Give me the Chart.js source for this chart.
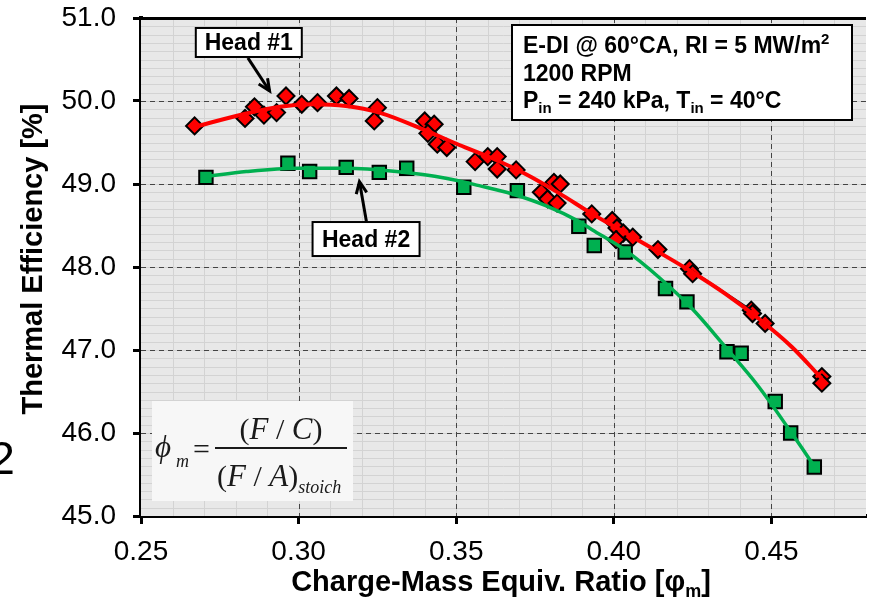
<!DOCTYPE html>
<html>
<head>
<meta charset="utf-8">
<script src="https://cdn.jsdelivr.net/npm/chart.js@4.4.1/dist/chart.umd.min.js"></script>
<style>
  html, body { margin: 0; padding: 0; background: #fff; overflow: hidden; }
  #wrap { width: 870px; height: 601px; position: relative; }
</style>
</head>
<body>
<div id="wrap"><canvas id="effChart"></canvas></div>
<script>
// Head #1 measurements (red diamonds)
const head1Phi = [0.267, 0.283, 0.286, 0.289, 0.293, 0.296, 0.301, 0.306, 0.312, 0.316,
                  0.325, 0.324, 0.340, 0.343, 0.341, 0.344, 0.347, 0.356, 0.360, 0.363,
                  0.363, 0.369, 0.377, 0.381, 0.383, 0.379, 0.382, 0.393, 0.3995, 0.401,
                  0.403, 0.406, 0.4007, 0.414, 0.424, 0.425, 0.4436, 0.444, 0.448, 0.466, 0.466];
const head1Eff = [49.70, 49.79, 49.93, 49.83, 49.86, 50.06, 49.96, 49.98, 50.06, 50.03,
                  49.92, 49.76, 49.76, 49.72, 49.61, 49.48, 49.44, 49.27, 49.33, 49.33,
                  49.18, 49.17, 48.90, 49.02, 49.00, 48.82, 48.77, 48.64, 48.56, 48.47,
                  48.41, 48.36, 48.33, 48.21, 47.98, 47.92, 47.48, 47.44, 47.32, 46.68, 46.60];

// Head #2 measurements (green squares)
const head2Phi = [0.2706, 0.2966, 0.3035, 0.3151, 0.3256, 0.3343, 0.3524, 0.3694, 0.3889,
                  0.3938, 0.4036, 0.4164, 0.4232, 0.4359, 0.4404, 0.4512, 0.4561, 0.4636];
const head2Eff = [49.08, 49.25, 49.15, 49.20, 49.14, 49.19, 48.96, 48.92, 48.49,
                  48.26, 48.18, 47.74, 47.58, 46.98, 46.96, 46.38, 46.00, 45.59];

// trend curves
const head1FitPhi = [0.267, 0.2835, 0.294, 0.3045, 0.315, 0.3256, 0.340, 0.351, 0.3614, 0.372,
                     0.3826, 0.3931, 0.4037, 0.4142, 0.4248, 0.4353, 0.4459, 0.4564, 0.4659];
const head1FitEff = [49.69, 49.85, 49.93, 49.96, 49.94, 49.86, 49.65, 49.47, 49.31, 49.12,
                     48.89, 48.64, 48.41, 48.18, 47.94, 47.68, 47.38, 47.04, 46.66];
const head2FitPhi = [0.2706, 0.2834, 0.2993, 0.3151, 0.331, 0.3467, 0.3573, 0.3678, 0.3784,
                     0.3889, 0.3931, 0.4037, 0.4142, 0.4248, 0.4353, 0.4459, 0.4564, 0.4638];
const head2FitEff = [49.09, 49.15, 49.19, 49.19, 49.15, 49.07, 48.98, 48.88, 48.74,
                     48.55, 48.45, 48.20, 47.88, 47.50, 47.04, 46.56, 46.00, 45.59];

// thin dark connector between two Head #1 points
const linkPhi = [0.4237, 0.4436];
const linkEff = [47.98, 47.48];

const xTicks = [0.25, 0.30, 0.35, 0.40, 0.45];
const yTicks = [45, 46, 47, 48, 49, 50, 51];
const xRange = [0.25, 0.48];
const yRange = [45, 51];

const SANS = '"Liberation Sans", Arial, sans-serif';
const SERIF = '"Liberation Serif", "Times New Roman", serif';

const toPoints = (xs, ys) => xs.map((x, i) => ({ x: x, y: ys[i] }));

// draws a row of text pieces (normal, sub, superscript) one after another
function drawRuns(ctx, x, y, runs) {
    let cx = x;
    runs.forEach(r => {
        ctx.font = r.font;
        ctx.fillText(r.t, cx, y + (r.dy || 0));
        cx += ctx.measureText(r.t).width;
    });
    return cx;
}
function runsWidth(ctx, runs) {
    let w = 0;
    runs.forEach(r => { ctx.font = r.font; w += ctx.measureText(r.t).width; });
    return w;
}

function drawArrow(ctx, x1, y1, x2, y2) {
    ctx.beginPath();
    ctx.moveTo(x1, y1);
    ctx.lineTo(x2, y2);
    ctx.stroke();
    const a = Math.atan2(y2 - y1, x2 - x1);
    const len = 13, spread = 0.42;
    ctx.beginPath();
    ctx.moveTo(x2 - len * Math.cos(a - spread), y2 - len * Math.sin(a - spread));
    ctx.lineTo(x2, y2);
    ctx.lineTo(x2 - len * Math.cos(a + spread), y2 - len * Math.sin(a + spread));
    ctx.stroke();
}

function labelBox(ctx, cx, cy, w, h, text) {
    ctx.fillStyle = '#fff';
    ctx.fillRect(cx - w / 2, cy - h / 2, w, h);
    ctx.lineWidth = 2;
    ctx.strokeStyle = '#000';
    ctx.strokeRect(cx - w / 2, cy - h / 2, w, h);
    ctx.fillStyle = '#000';
    ctx.font = 'bold 23px ' + SANS;
    ctx.textAlign = 'center';
    ctx.textBaseline = 'alphabetic';
    ctx.fillText(text, cx, cy + 8);
    ctx.textAlign = 'left';
}

// plot background with fine and dashed grid
const gridPlugin = {
    id: 'gridPlugin',
    beforeDatasetsDraw(chart) {
        const { ctx, chartArea: a, scales: { x, y } } = chart;
        ctx.save();
        ctx.fillStyle = '#e8e8e8';
        ctx.fillRect(a.left, a.top, a.right - a.left, a.bottom - a.top);

        ctx.strokeStyle = '#d3d3d3';
        ctx.lineWidth = 1;
        ctx.beginPath();
        for (let i = 1; i < 23; i++) {
            const px = Math.round(x.getPixelForValue(xRange[0] + i * 0.01)) + 0.5;
            ctx.moveTo(px, a.top); ctx.lineTo(px, a.bottom);
        }
        for (let i = 1; i < 60; i++) {
            const py = Math.round(y.getPixelForValue(yRange[0] + i * 0.1)) + 0.5;
            ctx.moveTo(a.left, py); ctx.lineTo(a.right, py);
        }
        ctx.stroke();

        ctx.strokeStyle = '#444';
        ctx.setLineDash([5, 4]);
        ctx.beginPath();
        xTicks.slice(1).forEach(v => {
            const px = Math.round(x.getPixelForValue(v)) + 0.5;
            ctx.moveTo(px, a.top); ctx.lineTo(px, a.bottom);
        });
        yTicks.slice(1, -1).forEach(v => {
            const py = Math.round(y.getPixelForValue(v)) + 0.5;
            ctx.moveTo(a.left, py); ctx.lineTo(a.right, py);
        });
        ctx.stroke();
        ctx.setLineDash([]);

        // top frame line
        ctx.fillStyle = '#000';
        ctx.fillRect(a.left, a.top - 1, a.right - a.left, 3);
        ctx.restore();
    }
};

// callouts, condition box, formula and axis titles
const notesPlugin = {
    id: 'notesPlugin',
    afterDraw(chart) {
        const { ctx, chartArea: a, scales: { x, y } } = chart;
        ctx.save();
        ctx.textBaseline = 'alphabetic';

        // Head labels with arrows
        ctx.strokeStyle = '#000';
        ctx.lineWidth = 3;
        drawArrow(ctx, x.getPixelForValue(0.2839), y.getPixelForValue(50.52),
                       x.getPixelForValue(0.2908), y.getPixelForValue(50.12));
        drawArrow(ctx, x.getPixelForValue(0.3215), y.getPixelForValue(48.55),
                       x.getPixelForValue(0.3193), y.getPixelForValue(49.03));
        labelBox(ctx, x.getPixelForValue(0.2842), y.getPixelForValue(50.705), 106, 29, 'Head #1');
        labelBox(ctx, x.getPixelForValue(0.3214), y.getPixelForValue(48.337), 107, 34, 'Head #2');

        // operating condition box
        ctx.fillStyle = '#fff';
        ctx.fillRect(512, 25, 340, 95);
        ctx.lineWidth = 2;
        ctx.strokeStyle = '#000';
        ctx.strokeRect(512, 25, 340, 95);
        ctx.fillStyle = '#000';
        const big = 'bold 23px ' + SANS, small = 'bold 15px ' + SANS;
        drawRuns(ctx, 523, 53, [
            { t: 'E-DI @ 60°CA, RI = 5 MW/m', font: big },
            { t: '2', font: small, dy: -9 }
        ]);
        drawRuns(ctx, 523, 81, [{ t: '1200 RPM', font: big }]);
        drawRuns(ctx, 523, 108, [
            { t: 'P', font: big },
            { t: 'in', font: small, dy: 5 },
            { t: ' = 240 kPa, T', font: big },
            { t: 'in', font: small, dy: 5 },
            { t: ' = 40°C', font: big }
        ]);

        // equivalence ratio definition
        ctx.fillStyle = '#f7f7f7';
        ctx.fillRect(152, 401, 201, 100);
        ctx.fillStyle = '#1a1a1a';
        const it = 'italic 31px ' + SERIF, up = '30px ' + SERIF, sub = 'italic 18px ' + SERIF;
        drawRuns(ctx, 155, 457, [{ t: 'ϕ', font: it }]);
        drawRuns(ctx, 176, 467, [{ t: 'm', font: sub }]);
        drawRuns(ctx, 193, 459, [{ t: '=', font: up }]);
        ctx.fillRect(215, 447, 132, 2);
        const num = [
            { t: '(', font: up }, { t: 'F', font: it }, { t: ' / ', font: up },
            { t: 'C', font: it }, { t: ')', font: up }
        ];
        drawRuns(ctx, 281 - runsWidth(ctx, num) / 2, 439, num);
        drawRuns(ctx, 217, 486, [
            { t: '(', font: up }, { t: 'F', font: it }, { t: ' / ', font: up },
            { t: 'A', font: it }, { t: ')', font: up },
            { t: 'stoich', font: sub, dy: 7 }
        ]);

        // axis titles
        ctx.fillStyle = '#000';
        const tBig = 'bold 29px ' + SANS, tSub = 'bold 18px ' + SANS;
        const title = [
            { t: 'Charge-Mass Equiv. Ratio [φ', font: tBig },
            { t: 'm', font: tSub, dy: 6 },
            { t: ']', font: tBig }
        ];
        drawRuns(ctx, 501 - runsWidth(ctx, title) / 2, 591, title);

        ctx.save();
        ctx.translate(42, 259);
        ctx.rotate(-Math.PI / 2);
        ctx.font = tBig;
        ctx.textAlign = 'center';
        ctx.fillText('Thermal Efficiency [%]', 0, 0);
        ctx.restore();

        // partial figure number at the left edge
        ctx.font = '47px ' + SANS;
        ctx.textAlign = 'right';
        ctx.fillText('2', 15, 474);
        ctx.restore();
    }
};

const noPad = s => { s.paddingLeft = 0; s.paddingRight = 0; s.paddingTop = 0; s.paddingBottom = 0; };

const ctx = document.getElementById('effChart').getContext('2d');
const effChart = new Chart(ctx, {
    type: 'scatter',
    data: {
        datasets: [
            {
                label: 'Head #1 fit',
                data: toPoints(head1FitPhi, head1FitEff),
                showLine: true,
                borderColor: '#ff0000',
                borderWidth: 4,
                pointRadius: 0,
                cubicInterpolationMode: 'monotone'
            },
            {
                label: 'Head #2 fit',
                data: toPoints(head2FitPhi, head2FitEff),
                showLine: true,
                borderColor: '#00b050',
                borderWidth: 3.5,
                pointRadius: 0,
                cubicInterpolationMode: 'monotone'
            },
            {
                label: 'link',
                data: toPoints(linkPhi, linkEff),
                showLine: true,
                borderColor: '#111',
                borderWidth: 2,
                pointRadius: 0
            },
            {
                label: 'Head #1',
                data: toPoints(head1Phi, head1Eff),
                pointStyle: 'rectRot',
                pointRadius: 8.5,
                backgroundColor: '#ff0000',
                borderColor: '#000',
                borderWidth: 2
            },
            {
                label: 'Head #2',
                data: toPoints(head2Phi, head2Eff),
                pointStyle: 'rect',
                pointRadius: 9.5,
                backgroundColor: '#00b050',
                borderColor: '#000',
                borderWidth: 2
            }
        ]
    },
    options: {
        responsive: true,
        maintainAspectRatio: false,
        animation: false,
        layout: { autoPadding: false, padding: { left: 0, top: 18, right: 4, bottom: 0 } },
        plugins: {
            legend: { display: false },
            tooltip: { enabled: false }
        },
        scales: {
            x: {
                type: 'linear',
                min: xRange[0],
                max: xRange[1],
                afterBuildTicks: s => { s.ticks = xTicks.map(v => ({ value: v })); },
                afterFit: s => { s.height = 85; noPad(s); },
                ticks: {
                    color: '#000',
                    padding: 11,
                    font: { family: SANS, size: 28 },
                    callback: v => v.toFixed(2)
                },
                grid: {
                    display: true,
                    drawOnChartArea: false,
                    drawTicks: true,
                    tickLength: 8,
                    tickWidth: 3,
                    tickColor: '#000'
                },
                border: { color: '#000', width: 4 }
            },
            y: {
                type: 'linear',
                min: yRange[0],
                max: yRange[1],
                afterBuildTicks: s => { s.ticks = yTicks.map(v => ({ value: v })); },
                afterFit: s => { s.width = 141; noPad(s); },
                ticks: {
                    color: '#000',
                    padding: 17,
                    font: { family: SANS, size: 28 },
                    callback: v => v.toFixed(1)
                },
                grid: {
                    display: true,
                    drawOnChartArea: false,
                    drawTicks: true,
                    tickLength: 8,
                    tickWidth: 3,
                    tickColor: '#000'
                },
                border: { color: '#000', width: 4 }
            }
        }
    },
    plugins: [gridPlugin, notesPlugin]
});
</script>
</body>
</html>
